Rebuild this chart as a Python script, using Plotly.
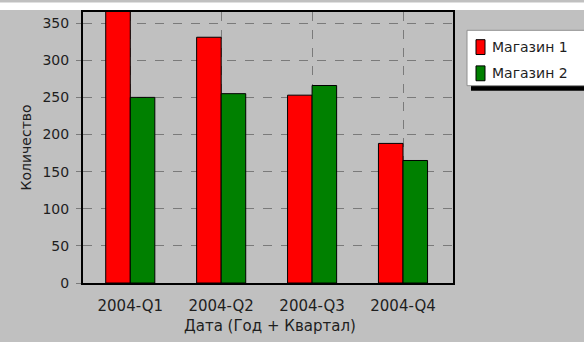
import plotly.graph_objects as go

# Quarterly sales per store
quarters = ["2004-Q1", "2004-Q2", "2004-Q3", "2004-Q4"]
store_names = ["Магазин 1", "Магазин 2"]
store1 = [370, 331, 253, 188]
store2 = [250, 255, 266, 165]
store_colors = ["#ff0000", "#008000"]
y_ticks = [0, 50, 100, 150, 200, 250, 300, 350]

W, H = 584, 342
L, R, T, B = 83, 453, 9.5, 283.5  # plot area in pixels


def px(x):
    return (x - L) / (R - L)


def py(y):
    return (B - y) / (B - T)


FONT = "DejaVu Sans"
TXT = "#1e1e1e"

fig = go.Figure()
for name, vals, col in zip(store_names, [store1, store2], store_colors):
    fig.add_trace(go.Bar(
        x=quarters, y=vals, name=name,
        marker=dict(color=col, line=dict(color="#000000", width=1)),
        showlegend=False,
    ))

fig.update_layout(
    width=W, height=H,
    margin=dict(l=L, r=W - R, t=T, b=H - B, pad=0),
    paper_bgcolor="#c0c0c0",
    plot_bgcolor="#c0c0c0",
    barmode="group", bargap=0.46, bargroupgap=0,
    font=dict(family=FONT, size=14, color=TXT),
)

fig.update_xaxes(
    type="category", range=[-0.52, 3.55],
    showgrid=True, gridcolor="#7a7a7a", griddash="dash", gridwidth=1,
    showline=True, linecolor="#000000", linewidth=2, mirror=True,
    ticks="", ticklabelstandoff=8,
    tickfont=dict(family=FONT, size=15, color=TXT),
)
fig.update_yaxes(
    range=[0, 365], tickvals=y_ticks,
    showgrid=True, gridcolor="#7a7a7a", griddash="dash", gridwidth=1,
    zeroline=False,
    showline=True, linecolor="#000000", linewidth=2, mirror=True,
    ticks="outside", ticklen=5, tickcolor="#7a7a7a", ticklabelstandoff=4,
    tickfont=dict(family=FONT, size=14, color=TXT),
)

shapes = []
annotations = []

# white strip along the top edge
shapes.append(dict(type="rect", xref="paper", yref="paper",
                   x0=px(0), x1=px(W), y0=py(7.5), y1=py(0),
                   fillcolor="#ffffff", line=dict(width=0), layer="below"))

# axis titles
annotations.append(dict(text="Количество", xref="paper", yref="paper",
                        x=px(25), y=py(146.5), textangle=-90,
                        showarrow=False, xanchor="center", yanchor="middle",
                        font=dict(family=FONT, size=14, color=TXT)))
annotations.append(dict(text="Дата (Год + Квартал)", xref="paper", yref="paper",
                        x=px(270), y=py(327), showarrow=False,
                        xanchor="center", yanchor="middle",
                        font=dict(family=FONT, size=15, color=TXT)))

# legend box with drop shadow
shapes.append(dict(type="rect", xref="paper", yref="paper",
                   x0=px(471), x1=px(W + 5), y0=py(89), y1=py(32),
                   fillcolor="#000000", line=dict(width=0)))
shapes.append(dict(type="rect", xref="paper", yref="paper",
                   x0=px(467), x1=px(W + 5), y0=py(84), y1=py(28),
                   fillcolor="#ffffff", line=dict(color="#909090", width=1)))
for i, (name, col) in enumerate(zip(store_names, store_colors)):
    cy = 45 + i * 26.5
    shapes.append(dict(type="rect", xref="paper", yref="paper",
                       x0=px(476), x1=px(485), y0=py(cy + 7.5), y1=py(cy - 7.5),
                       fillcolor=col, line=dict(color="#000000", width=1)))
    annotations.append(dict(text=name, xref="paper", yref="paper",
                            x=px(490), y=py(cy), showarrow=False,
                            xanchor="left", yanchor="middle",
                            font=dict(family=FONT, size=14, color=TXT)))

fig.update_layout(shapes=shapes, annotations=annotations)
fig.write_html("out.html")
